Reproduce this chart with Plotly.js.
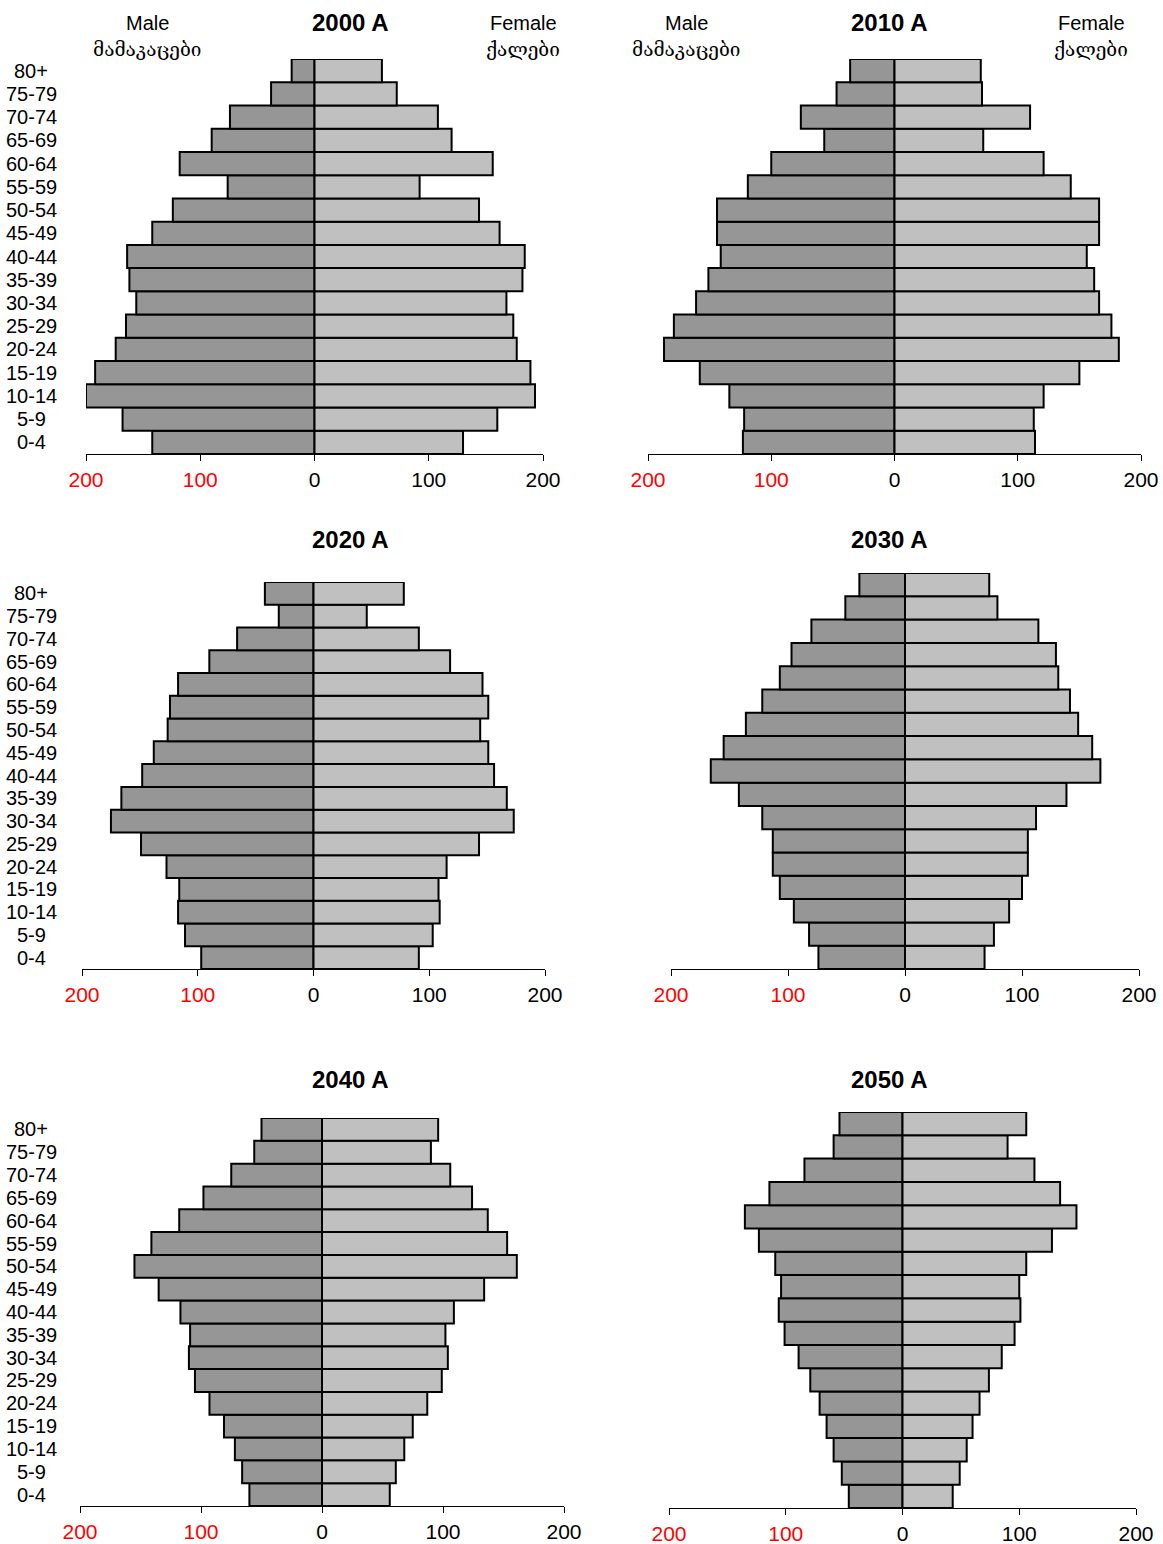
<!DOCTYPE html>
<html><head><meta charset="utf-8">
<script src="https://cdn.plot.ly/plotly-3.0.1.min.js"></script>
<style>body{margin:0;background:#fff}</style>
</head><body><div id="chart" style="width:1163px;height:1544px"></div>
<script>
// Age groups, bottom to top
const ageGroups = ['0-4','5-9','10-14','15-19','20-24','25-29','30-34','35-39','40-44','45-49','50-54','55-59','60-64','65-69','70-74','75-79','80+'];
const years = ['2000 A','2010 A','2020 A','2030 A','2040 A','2050 A'];
// Values (thousands), bottom (0-4) to top (80+)
const male2000   = [142,168,200,192,174,165,156,162,164,142,124,76,118,90,74,38,20];
const female2000 = [130,160,193,189,177,174,168,182,184,162,144,92,156,120,108,72,59];
const male2010   = [123,122,134,158,187,179,161,151,141,144,144,119,100,57,76,47,36];
const female2010 = [114,113,121,150,182,176,166,162,156,166,166,143,121,72,110,71,70];
const male2020   = [97,111,117,116,127,149,175,166,148,138,126,124,117,90,66,30,42];
const female2020 = [91,103,109,108,115,143,173,167,156,151,144,151,146,118,91,46,78];
const male2030   = [74,82,95,107,113,113,122,142,166,155,136,122,107,97,80,51,39];
const female2030 = [68,76,89,100,105,105,112,138,167,160,148,141,131,129,114,79,72];
const male2040   = [60,66,72,81,93,105,110,109,117,135,155,141,118,98,75,56,50];
const female2040 = [56,61,68,75,87,99,104,102,109,134,161,153,137,124,106,90,96];
const male2050   = [46,52,59,65,71,79,89,101,106,104,109,123,135,114,84,59,54];
const female2050 = [43,49,55,60,66,74,85,96,101,100,106,128,149,135,113,90,106];
const tickVals = [-200,-100,0,100,200];
const tickLabels = ['200','100','0','100','200'];
const maleLabel = ['Male','მამაკაცები'];
const femaleLabel = ['Female','ქალები'];

const maleSeries = [male2000,male2010,male2020,male2030,male2040,male2050];
const femaleSeries = [female2000,female2010,female2020,female2030,female2040,female2050];

const W = 1163, H = 1544;
// panel pixel geometry [x0,x1,yTop,yBottom,titleX,titleY]
const panels = [
  [86,543,59,454,350,22],
  [648,1141,59,454,889,22],
  [82,545,582,969,350,539],
  [671,1139,573,969,889,539],
  [80,564,1118,1506,350,1079],
  [669,1136,1112,1508,889,1079]
];
const FONT = 'Liberation Sans, Arial, sans-serif';
const GEO = 'DejaVu Serif, DejaVu Sans, serif';
const traces = [];
const layout = {
  width: W, height: H, margin:{l:0,r:0,t:0,b:0},
  paper_bgcolor:'#fff', plot_bgcolor:'#fff',
  showlegend:false, barmode:'overlay', bargap:0,
  font:{family:FONT, size:20, color:'#000'},
  annotations:[]
};
const tickText = tickLabels.map((t,i)=> i<2 ? '<span style="color:#ff0000">'+t+'</span>' : t);

panels.forEach((p,i)=>{
  const n = i+1;
  const xa = 'x'+(n===1?'':n), ya = 'y'+(n===1?'':n);
  traces.push({type:'bar', orientation:'h', y:ageGroups, x:maleSeries[i].map(v=>-v),
    xaxis:xa, yaxis:ya, marker:{color:'#969696', line:{color:'#000', width:2}}, hoverinfo:'skip'});
  traces.push({type:'bar', orientation:'h', y:ageGroups, x:femaleSeries[i],
    xaxis:xa, yaxis:ya, marker:{color:'#c0c0c0', line:{color:'#000', width:2}}, hoverinfo:'skip'});
  layout['xaxis'+(n===1?'':n)] = {
    domain:[p[0]/W, p[1]/W], range:[-200,200], anchor:ya,
    tickvals:tickVals, ticktext:tickText, ticks:'outside', ticklen:6, tickwidth:1, tickcolor:'#000',
    showline:true, linecolor:'#000', linewidth:1, showgrid:false, zeroline:false,
    tickfont:{family:FONT, size:21, color:'#000'}, ticklabelstandoff:1, fixedrange:true
  };
  layout['yaxis'+(n===1?'':n)] = {
    domain:[1-p[3]/H, 1-p[2]/H], range:[-0.5,16.5], anchor:xa, type:'category',
    showticklabels:false, ticks:'', showline:false, showgrid:false, zeroline:false, fixedrange:true
  };
  layout.annotations.push({xref:'paper', yref:'paper', x:p[4]/W, y:1-p[5]/H, xanchor:'center', yanchor:'middle',
    text:'<b>'+years[i]+'</b>', showarrow:false, font:{family:FONT, size:24, color:'#000'}});
  if (i%2===0) {
    ageGroups.forEach(a=>{
      layout.annotations.push({xref:'paper', yref:ya, x:31/W, y:a, xanchor:'center', yanchor:'middle',
        text:a, showarrow:false, font:{family:FONT, size:20, color:'#000'}});
    });
  }
});
// Male / Female headers on the two top panels
[[147,523],[686,1091]].forEach(c=>{
  layout.annotations.push({xref:'paper', yref:'paper', x:c[0]/W, y:1-23/H, xanchor:'center', yanchor:'middle',
    text:maleLabel[0], showarrow:false, font:{family:FONT, size:20, color:'#000'}});
  layout.annotations.push({xref:'paper', yref:'paper', x:c[0]/W, y:1-49/H, xanchor:'center', yanchor:'middle',
    text:maleLabel[1], showarrow:false, font:{family:GEO, size:19, color:'#000'}});
  layout.annotations.push({xref:'paper', yref:'paper', x:c[1]/W, y:1-23/H, xanchor:'center', yanchor:'middle',
    text:femaleLabel[0], showarrow:false, font:{family:FONT, size:20, color:'#000'}});
  layout.annotations.push({xref:'paper', yref:'paper', x:c[1]/W, y:1-49/H, xanchor:'center', yanchor:'middle',
    text:femaleLabel[1], showarrow:false, font:{family:GEO, size:19, color:'#000'}});
});
Plotly.newPlot('chart', traces, layout, {staticPlot:true, displayModeBar:false});
</script></body></html>
